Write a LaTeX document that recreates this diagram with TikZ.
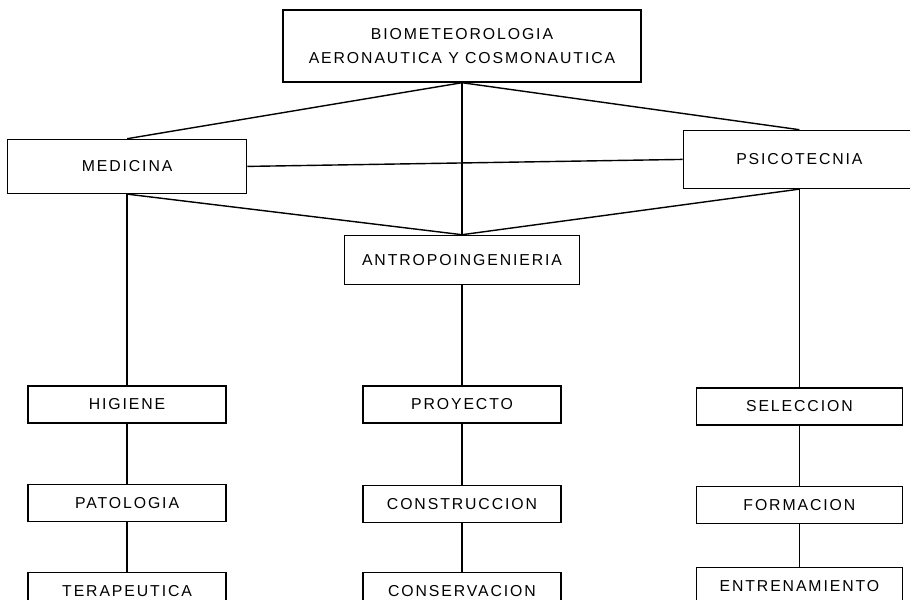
\documentclass[tikz,border=0pt]{standalone}
\usepackage{fontspec}
\newfontfamily\lettering[LetterSpace=12]{Liberation Sans}
\usetikzlibrary{positioning}
\begin{document}
\begin{tikzpicture}[thick, box/.style={draw, rectangle, inner sep=0pt, minimum height=0.74cm, align=center, font=\lettering\fontsize{9}{14}\selectfont}, left col/.style={box, minimum width=3.96cm}, mid col/.style={box, minimum width=3.96cm}, right col/.style={box, minimum width=4.12cm}]
    \useasboundingbox (0,0) rectangle (18.2,-12);
    \clip (0,0) rectangle (18.2,-12);
    \node[box, minimum width=7.16cm, minimum height=1.44cm] (bio) at (9.24,-0.92) {BIOMETEOROLOGIA\\AERONAUTICA Y COSMONAUTICA};
    \node[box, minimum width=4.78cm, minimum height=1.08cm] (med) [below left=1.12cm and 0.7cm of bio] {MEDICINA};
    \node[box, minimum width=4.64cm, minimum height=1.16cm] (psi) [below right=0.94cm and 0.82cm of bio] {PSICOTECNIA};
    \node[box, minimum width=4.7cm, minimum height=0.98cm] (antro) [below=3.04cm of bio] {ANTROPOINGENIERIA};
    \node[left col] (hig) [below=3.82cm of med] {HIGIENE};
    \node[left col] (pat) [below=1.2cm of hig] {PATOLOGIA};
    \node[left col] (ter) [below=1.0cm of pat] {TERAPEUTICA};
    \node[mid col] (pro) [below=2.0cm of antro] {PROYECTO};
    \node[mid col] (cons) [below=1.22cm of pro] {CONSTRUCCION};
    \node[mid col] (conv) [below=0.98cm of cons] {CONSERVACION};
    \node[right col] (sel) [below=3.96cm of psi] {SELECCION};
    \node[right col] (form) [below=1.2cm of sel] {FORMACION};
    \node[right col] (ent) [below=0.86cm of form] {ENTRENAMIENTO};

    \path[draw]
        (bio.south) edge (med.north)
        (bio.south) edge (psi.north)
        (bio.south) edge (antro.north)
        (med.east) edge (psi.west)
        (med.south) edge (antro.north)
        (psi.south) edge (antro.north)
        (med.south) edge (hig.north)
        (hig) edge (pat)
        (pat) edge (ter)
        (antro) edge (pro)
        (pro) edge (cons)
        (cons) edge (conv)
        (psi.south) edge (sel.north)
        (sel) edge (form)
        (form) edge (ent);
\end{tikzpicture}
\end{document}
